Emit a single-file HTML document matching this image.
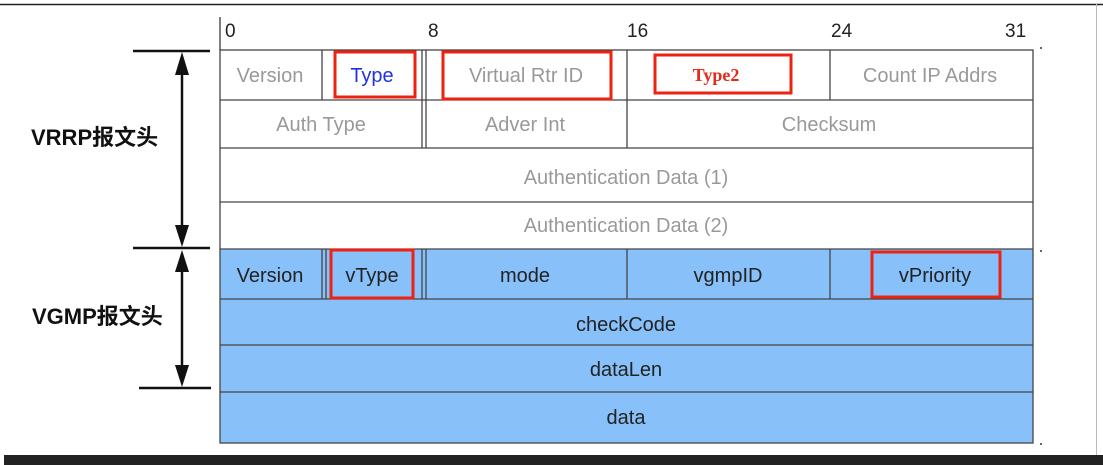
<!DOCTYPE html>
<html><head><meta charset="utf-8"><style>
html,body{margin:0;padding:0;background:#fff;}
svg{display:block;}
text{font-family:"Liberation Sans","Noto Sans CJK SC",sans-serif;}
text.serif{font-family:"Liberation Serif",serif;}
</style></head><body>
<svg width="1103" height="465" viewBox="0 0 1103 465" xmlns="http://www.w3.org/2000/svg">
<line x1="0" y1="4.5" x2="1103" y2="4.5" stroke="#222" stroke-width="1.5"/>
<line x1="1096.5" y1="4" x2="1096.5" y2="455" stroke="#bbb" stroke-width="1"/>
<rect x="4" y="455" width="1099" height="10" fill="#222"/>
<line x1="220" y1="17" x2="220" y2="50" stroke="#555" stroke-width="1.5"/>
<g font-size="19" fill="#222">
<text x="225" y="37">0</text><text x="428" y="37">8</text><text x="627" y="37">16</text><text x="831" y="37">24</text><text x="1005" y="37">31</text>
</g>
<rect x="220" y="249" width="813" height="194" fill="#88c0fa"/>
<g stroke="#444" stroke-width="1.3" fill="none">
<rect x="220" y="50" width="813" height="393"/>
<line x1="220" y1="100" x2="1033" y2="100"/>
<line x1="220" y1="148" x2="1033" y2="148"/>
<line x1="220" y1="202" x2="1033" y2="202"/>
<line x1="220" y1="249" x2="1033" y2="249"/>
<line x1="220" y1="299" x2="1033" y2="299"/>
<line x1="220" y1="345" x2="1033" y2="345"/>
<line x1="220" y1="392" x2="1033" y2="392"/>
<line x1="322" y1="50" x2="322" y2="100"/>
<line x1="422" y1="50" x2="422" y2="148"/>
<line x1="426" y1="50" x2="426" y2="148"/>
<line x1="627" y1="50" x2="627" y2="148"/>
<line x1="830" y1="50" x2="830" y2="100"/>
<line x1="322" y1="249" x2="322" y2="299"/>
<line x1="326" y1="249" x2="326" y2="299"/>
<line x1="422" y1="249" x2="422" y2="299"/>
<line x1="426" y1="249" x2="426" y2="299"/>
<line x1="627" y1="249" x2="627" y2="299"/>
<line x1="830" y1="249" x2="830" y2="299"/>
</g>
<g fill="#666"><rect x="1040" y="47" width="2" height="2"/><rect x="1040" y="250" width="2" height="2"/><rect x="1040" y="443" width="2" height="2"/></g>
<g font-size="20" fill="#999" text-anchor="middle">
<text x="270" y="82">Version</text>
<text x="526" y="82">Virtual Rtr ID</text>
<text x="930" y="82">Count IP Addrs</text>
<text x="321" y="131">Auth Type</text>
<text x="525" y="131">Adver Int</text>
<text x="829" y="131">Checksum</text>
<text x="626" y="184">Authentication Data (1)</text>
<text x="626" y="232">Authentication Data (2)</text>
</g>
<text x="372" y="82" font-size="20" fill="#2233dd" text-anchor="middle">Type</text>
<text class="serif" x="716" y="81" font-size="18" font-weight="bold" fill="#e52a1a" text-anchor="middle">Type2</text>
<g font-size="20" fill="#222" text-anchor="middle">
<text x="270" y="282">Version</text>
<text x="372" y="282">vType</text>
<text x="525" y="282">mode</text>
<text x="728" y="282">vgmpID</text>
<text x="935" y="282">vPriority</text>
<text x="626" y="331">checkCode</text>
<text x="626" y="376">dataLen</text>
<text x="626" y="424">data</text>
</g>
<g stroke="#ee2211" stroke-width="3" fill="none">
<rect x="335" y="52" width="80" height="45"/>
<rect x="443" y="52" width="168" height="47"/>
<rect x="655" y="55" width="136" height="38"/>
<rect x="331" y="250" width="82" height="48"/>
<rect x="872" y="252" width="128" height="45"/>
</g>
<g stroke="#111" stroke-width="2.5">
<line x1="133" y1="51" x2="210" y2="51"/>
<line x1="133" y1="248" x2="210" y2="248"/>
<line x1="139" y1="388" x2="211" y2="388"/>
<line x1="182" y1="60" x2="182" y2="240"/>
<line x1="182" y1="258" x2="182" y2="380"/>
</g>
<g fill="#111">
<polygon points="182,52 175,75 189,75"/>
<polygon points="182,247 175,225 189,225"/>
<polygon points="182,250 175,272 189,272"/>
<polygon points="182,387 175,365 189,365"/>
</g>
<g font-size="22" font-weight="bold" fill="#111">
<text x="31" y="145">VRRP报文头</text>
<text x="32" y="324">VGMP报文头</text>
</g>
</svg>
</body></html>
